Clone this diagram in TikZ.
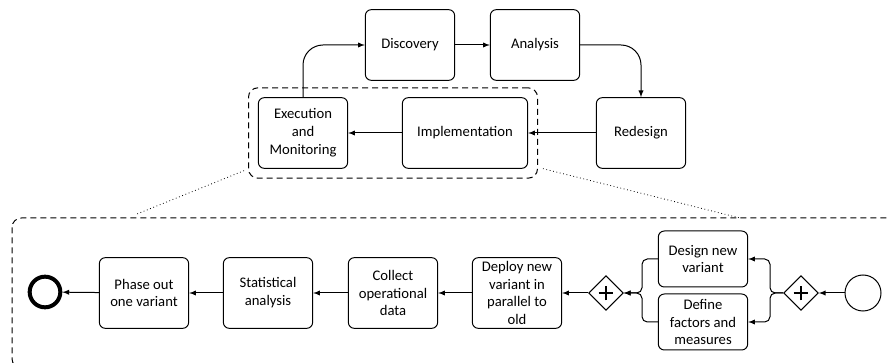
\documentclass[tikz,border=0pt]{standalone}
\usepackage{fontspec}
\setmainfont{Carlito}
\usepackage{tikz}
\usetikzlibrary{shapes.geometric,arrows,positioning,fit,calc}
\tikzstyle{task}=[draw,rounded corners=4.5pt,minimum width=67pt,minimum height=53pt,align=center,inner sep=2pt,line width=0.75pt]
\tikzstyle{gateway}=[draw,diamond,minimum size=26pt,inner sep=0pt,line width=0.75pt,path picture={\draw[line width=1.6pt] (path picture bounding box.center) ++(-5.5pt,0) -- ++(11pt,0) (path picture bounding box.center) ++(0,-5.5pt) -- ++(0,11pt);}]
\tikzstyle{startevent}=[draw,circle,minimum size=27pt,inner sep=0pt,line width=0.75pt]
\tikzstyle{endevent}=[draw,circle,minimum size=23pt,inner sep=0pt,line width=3pt]
\tikzstyle{flow}=[->,>=latex,line width=0.75pt]
\tikzstyle{group}=[draw,dash pattern=on 4.5pt off 3pt,rounded corners=7pt,line width=0.75pt]
\tikzstyle{lens}=[dotted,line width=0.6pt]

\begin{document}
\begin{tikzpicture}[x=0.75pt,y=0.75pt,font=\fontsize{11}{13.4}\selectfont]
\useasboundingbox (0,0) rectangle (890,-363);

% improvement cycle
\node[task] (disc) at (410,-45) {Discovery};
\node[task] (ana) at (535,-45) {Analysis};
\node[task] (red) at (641,-133) {Redesign};
\node[task,minimum width=94pt] (impl) at (465,-133) {Implementation};
\node[task] (exec) at (303,-133) {Execution\\and\\Monitoring};
\node[group,fit=(exec)(impl),inner sep=7pt] (zoom) {};
\draw[flow,rounded corners=15pt] (exec.north) |- (disc.west);
\draw[flow] (disc) -- (ana);
\draw[flow,rounded corners=15pt] (ana.east) -| (red.north);
\draw[flow] (red) -- (impl);
\draw[flow] (impl) -- (exec);

% detail of the experiment
\begin{scope}
\clip (0,0) rectangle (890,-363);
\draw[group] (12,-218) rectangle (910,-368);
\end{scope}
\coordinate (detailL) at (137,-214);
\coordinate (detailR) at (740,-218);
\draw[lens] ([shift={(-4,8)}]zoom.south west) -- (detailL);
\draw[lens] ([shift={(5,10)}]zoom.south east) -- (detailR);

\node[startevent] (start) at (863,-293) {};
\node[gateway] (split) at (801,-293) {};
\node[task,minimum height=42pt] (design) at (703,-259) {Design new\\variant};
\node[task,minimum height=42pt] (define) at (703,-322) {Define\\factors and\\measures};
\node[gateway] (join) at (606,-293) {};
\node[task] (deploy) at (517,-293) {Deploy new\\variant in\\parallel to\\old};
\node[task] (collect) at (393,-293) {Collect\\operational\\data};
\node[task] (stat) at (268,-293) {Statistical\\analysis};
\node[task] (phase) at (144,-293) {Phase out\\one variant};
\node[endevent] (end) at (45,-292) {};

\coordinate (fork) at (770,-293);
\coordinate (merge) at (642,-293);
\draw[flow] (start) -- (split);
\draw[flow,rounded corners=4pt] (split.west) -- (fork) |- (design.east);
\draw[flow,rounded corners=4pt] (split.west) -- (fork) |- (define.east);
\draw[flow,rounded corners=4pt] (design.west) -| (merge) -- (join.east);
\draw[flow,rounded corners=4pt] (define.west) -| (merge) -- (join.east);
\draw[flow] (join) -- (deploy);
\draw[flow] (deploy) -- (collect);
\draw[flow] (collect) -- (stat);
\draw[flow] (stat) -- (phase);
\draw[flow] (phase) -- (end);
\end{tikzpicture}
\end{document}
